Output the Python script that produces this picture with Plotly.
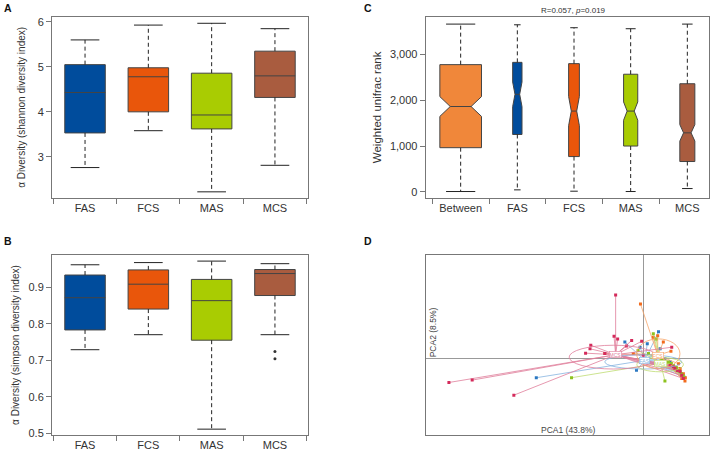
import plotly.graph_objects as go

FONT = 'Arial, "Liberation Sans", sans-serif'

groups = ['FAS', 'FCS', 'MAS', 'MCS']
group_colors = ['#004c9c', '#e9560b', '#a9cc02', '#a95c3f']

# A: shannon diversity
shannon_low = [2.76, 3.58, 2.22, 2.81]
shannon_q1 = [3.53, 4.00, 3.62, 4.32]
shannon_med = [4.43, 4.78, 3.93, 4.80]
shannon_q3 = [5.05, 4.98, 4.86, 5.35]
shannon_high = [5.60, 5.93, 5.97, 5.85]

# B: simpson diversity
simpson_low = [0.729, 0.770, 0.512, 0.770]
simpson_q1 = [0.783, 0.840, 0.755, 0.877]
simpson_med = [0.871, 0.908, 0.863, 0.937]
simpson_q3 = [0.933, 0.947, 0.921, 0.948]
simpson_high = [0.961, 0.967, 0.971, 0.964]
simpson_out_x = ['MCS', 'MCS']
simpson_out_y = [0.724, 0.704]

# C: weighted unifrac rank (notched, varwidth)
rank_cats = ['Between', 'FAS', 'FCS', 'MAS', 'MCS']
rank_colors = ['#f0873a'] + group_colors
rank_low = [7, 43, 14, 7, 72]
rank_q1 = [964, 1252, 770, 1000, 662]
rank_med = [1863, 2129, 1763, 1763, 1288]
rank_q3 = [2777, 2827, 2799, 2568, 2360]
rank_high = [3662, 3647, 3583, 3561, 3662]
rank_notch = [216, 270, 320, 200, 180]
rank_width = [0.735, 0.165, 0.19, 0.25, 0.265]

# D: PCA class plot
pca_groups = ['FAS', 'FCS', 'MAS', 'MCS']
pca_point_colors = ['#2b78c2', '#f26b1d', '#8dc21f', '#d42a5b']
pca_line_colors = ['#86b4e0', '#f7a669', '#bfdc72', '#e07d9a']
fas_x = [-2.67, -0.17, -0.46, 0.38, 0.10, -0.08, 0.98, 0.67, 0.42, 0.83, 0.25, 0.54,
         0.88, 0.75, 1.02]
fas_y = [-0.48, -0.29, 0.42, 0.68, 0.38, 0.29, -0.40, -0.08, 0.25, -0.29, 0.09, 0.00,
         -0.33, -0.20, -0.47]
fcs_x = [-0.07, 0.25, 0.36, 1.04, 0.92, 0.69, -0.25, -0.96, 1.00, 0.88, 0.50, 0.96,
         0.80, 0.95, 1.05]
fcs_y = [1.38, 0.54, 0.58, -0.56, -0.25, 0.19, 0.13, 0.13, -0.38, -0.13, 0.42, -0.50,
         -0.22, -0.42, -0.48]
mas_x = [-1.79, 0.54, 0.25, 0.32, 0.13, 0.92, 0.83, 0.75, 0.63, 0.46, 1.00, -0.13,
         0.86, 0.95, 0.70]
mas_y = [-0.48, -0.56, 0.63, 0.50, 0.13, -0.33, -0.23, -0.17, -0.08, 0.00, -0.43, 0.21,
         -0.30, -0.38, -0.12]
mcs_x = [-0.69, -4.85, -4.27, -3.23, -1.31, -1.33, -1.44, -0.73, -0.64, -0.29,
         -0.42, -0.96, 0.71, 0.79, 0.92, 0.67, 0.00, 0.96, -0.04, 0.85, 1.00, 0.75]
mcs_y = [1.61, -0.60, -0.54, -0.92, 0.34, 0.25, 0.14, 0.57, 0.50, 0.46,
         0.32, 0.13, 0.29, -0.25, -0.32, -0.17, 0.09, -0.42, 0.44, -0.30, -0.50, -0.20]
centroid_x = [0.04, 0.36, 0.43, -0.69]
centroid_y = [-0.04, 0.09, -0.11, 0.10]
ellipse_rx = [0.96, 0.54, 0.58, 1.10]
ellipse_ry = [0.18, 0.375, 0.18, 0.30]
ellipse_cx = [0.0, 0.375, 0.42, -0.75]
ellipse_cy = [-0.08, 0.125, -0.15, 0.04]

fig = go.Figure()


def add_boxes(cats, colors, low, q1, med, q3, high, widths, px_per_cat, xa, ya,
              notch=None):
    for i, cat in enumerate(cats):
        # dashed whiskers
        fig.add_trace(go.Scatter(
            x=[cat, cat, None, cat, cat],
            y=[q3[i], high[i], None, q1[i], low[i]],
            mode='lines',
            line={'color': '#222', 'width': 1, 'dash': '4px,3px'},
            xaxis=xa, yaxis=ya, showlegend=False, hoverinfo='skip',
        ))
        # whisker caps
        fig.add_trace(go.Scatter(
            x=[cat, cat], y=[low[i], high[i]],
            mode='markers',
            marker={'symbol': 'line-ew', 'size': 0.5 * widths[i] * px_per_cat,
                    'line': {'color': '#222', 'width': 1}},
            xaxis=xa, yaxis=ya, showlegend=False, hoverinfo='skip',
        ))
        box = dict(
            x=[cat], q1=[q1[i]], median=[med[i]], q3=[q3[i]],
            lowerfence=[q1[i]], upperfence=[q3[i]],
            fillcolor=colors[i], line={'color': '#444', 'width': 1},
            width=widths[i], whiskerwidth=0, boxpoints=False,
            xaxis=xa, yaxis=ya, showlegend=False,
        )
        if notch is not None:
            box.update(notched=True, notchspan=[notch[i]], notchwidth=0.25)
        fig.add_trace(go.Box(**box))


add_boxes(groups, group_colors, shannon_low, shannon_q1, shannon_med, shannon_q3,
          shannon_high, [0.64] * 4, 64, 'x', 'y')
add_boxes(groups, group_colors, simpson_low, simpson_q1, simpson_med, simpson_q3,
          simpson_high, [0.64] * 4, 64, 'x2', 'y2')
fig.add_trace(go.Scatter(
    x=simpson_out_x, y=simpson_out_y, mode='markers',
    marker={'color': '#333', 'size': 3}, xaxis='x2', yaxis='y2',
    showlegend=False,
))
add_boxes(rank_cats, rank_colors, rank_low, rank_q1, rank_med, rank_q3,
          rank_high, rank_width, 56.7, 'x3', 'y3', notch=rank_notch)

# D: star plot
pca_xs = [fas_x, fcs_x, mas_x, mcs_x]
pca_ys = [fas_y, fcs_y, mas_y, mcs_y]
shapes = []
annotations = []
for g, xs, ys, pc, lc, cx, cy in zip(pca_groups, pca_xs, pca_ys, pca_point_colors,
                                     pca_line_colors, centroid_x, centroid_y):
    lx, ly = [], []
    for px, py in zip(xs, ys):
        lx += [cx, px, None]
        ly += [cy, py, None]
    fig.add_trace(go.Scatter(
        x=lx, y=ly, mode='lines', line={'color': lc, 'width': 0.8},
        xaxis='x4', yaxis='y4', showlegend=False, hoverinfo='skip',
    ))
    fig.add_trace(go.Scatter(
        x=xs, y=ys, mode='markers',
        marker={'color': pc, 'size': 3, 'symbol': 'square'},
        xaxis='x4', yaxis='y4', showlegend=False,
    ))
    annotations.append(dict(
        x=cx, y=cy, xref='x4', yref='y4', text=g, showarrow=False,
        font={'size': 5, 'color': lc, 'family': FONT},
        bgcolor='white', bordercolor=lc, borderwidth=0.6, borderpad=0,
    ))

for ex, ey, rx, ry, lc in zip(ellipse_cx, ellipse_cy, ellipse_rx, ellipse_ry,
                              pca_line_colors):
    shapes.append(dict(
        type='circle', xref='x4', yref='y4',
        x0=ex - rx, x1=ex + rx, y0=ey - ry, y1=ey + ry,
        line={'color': lc, 'width': 0.8}, layer='above',
    ))

frame = dict(showline=True, mirror=True, linecolor='#777', linewidth=1,
             showgrid=False, zeroline=False, ticks='outside', ticklen=5,
             tickcolor='#777', tickfont={'size': 11, 'color': '#333'})

cat_axis = dict(frame, tickson='boundaries', type='category')

fig.update_layout(
    width=711, height=457,
    margin={'l': 0, 'r': 0, 't': 0, 'b': 0},
    paper_bgcolor='white', plot_bgcolor='white',
    font={'family': FONT, 'color': '#333'},
    boxmode='overlay',
    xaxis=dict(cat_axis, domain=[0.0731, 0.4332], anchor='y'),
    yaxis=dict(frame, domain=[0.5639, 0.9656], anchor='x', range=[2.08, 6.12],
               tickvals=[3, 4, 5, 6],
               title={'text': 'α Diversity (shannon diversity index)',
                      'font': {'size': 10}, 'standoff': 10}),
    xaxis2=dict(cat_axis, domain=[0.0731, 0.4332], anchor='y2'),
    yaxis2=dict(frame, domain=[0.0394, 0.4383], anchor='x2',
                range=[0.4955, 0.988], tickvals=[0.5, 0.6, 0.7, 0.8, 0.9],
                tickformat='.1f',
                title={'text': 'α Diversity (simpson diversity index)',
                       'font': {'size': 10}, 'standoff': 6}),
    xaxis3=dict(cat_axis, domain=[0.5987, 0.9972], anchor='y3'),
    yaxis3=dict(frame, domain=[0.5639, 0.9656], anchor='x3',
                range=[-137, 3827], tickvals=[0, 1000, 2000, 3000],
                tickformat=',',
                title={'text': 'Weighted unifrac rank',
                       'font': {'size': 11.5}, 'standoff': 5}),
    xaxis4=dict(domain=[0.5987, 0.9972], anchor='y4', range=[-5.43, 1.64],
                showline=True, mirror=True, linecolor='#777', showgrid=False,
                zeroline=True, zerolinecolor='#999', zerolinewidth=1,
                showticklabels=False, ticks=''),
    yaxis4=dict(domain=[0.0394, 0.4383], anchor='x4', range=[-1.93, 2.62],
                showline=True, mirror=True, linecolor='#777', showgrid=False,
                zeroline=True, zerolinecolor='#999', zerolinewidth=1,
                showticklabels=False, ticks=''),
    shapes=shapes,
)

panel_letters = [('A', 2, 7), ('B', 2, 243), ('C', 362, 7), ('D', 362, 243)]
for letter, px, py in panel_letters:
    annotations.append(dict(
        x=px / 711, y=1 - py / 457, xref='paper', yref='paper',
        xanchor='left', yanchor='middle', text=f'<b>{letter}</b>',
        showarrow=False, font={'size': 10.5, 'color': '#111'},
    ))

annotations += [
    dict(x=573 / 711, y=1 - 10 / 457, xref='paper', yref='paper',
         xanchor='center', yanchor='middle',
         text='R=0.057, <i>p</i>=0.019', showarrow=False,
         font={'size': 8, 'color': '#333'}),
    dict(x=568 / 711, y=1 - 434 / 457, xref='paper', yref='paper',
         xanchor='center', yanchor='middle',
         text='PCA1 (43.8%)', showarrow=False,
         font={'size': 8.5, 'color': '#444'}),
    dict(x=433 / 711, y=1 - 335 / 457, xref='paper', yref='paper',
         xanchor='center', yanchor='middle',
         text='PCA2 (8.5%)', showarrow=False, textangle=-90,
         font={'size': 8.5, 'color': '#444'}),
]
fig.update_layout(annotations=annotations)

# drop the default page margin so the figure sits at the window corner
fig.write_html('out.html', config={'displayModeBar': False},
               post_script="document.body.style.margin='0';")
